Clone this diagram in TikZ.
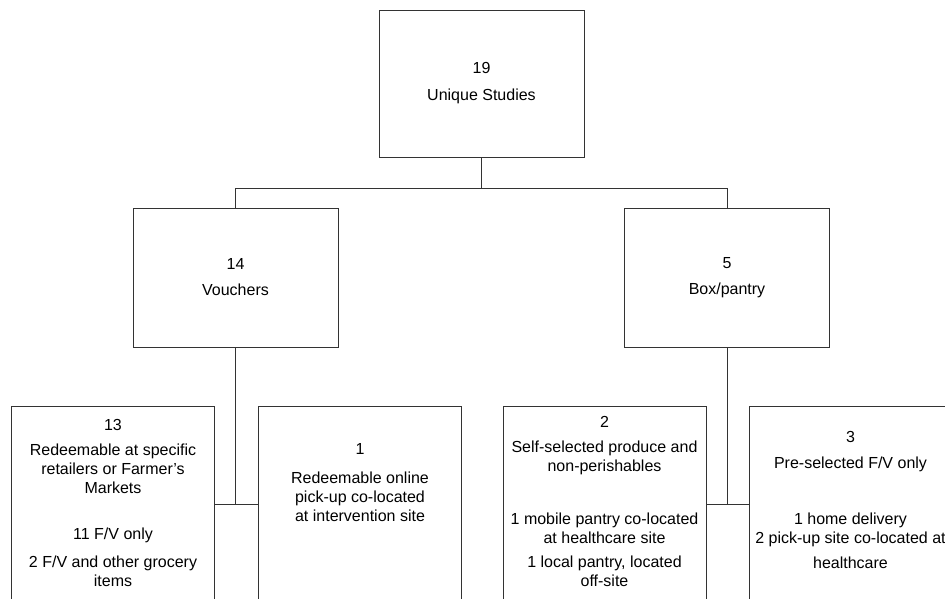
\documentclass[tikz,border=0pt]{standalone}
\usepackage{fontspec}
\setmainfont{Liberation Sans}
\usetikzlibrary{positioning}

% top-aligned text block inside a leaf box
\newcommand{\leaftext}[2]{\parbox[c][196pt][t]{203pt}{\centering\vspace*{#1}#2}}

\begin{document}
\begin{tikzpicture}[x=1pt,y=1pt]
    \tikzset{
      boxline/.style={rectangle,draw=black!80,line width=1pt,inner sep=0pt,font=\fontsize{16}{19}\selectfont},
      studybox/.style={boxline,minimum width=205pt,align=center},
      leafbox/.style={boxline,minimum width=203pt,minimum height=196pt},
      link/.style={draw=black!80,line width=1pt}
    }
    \useasboundingbox (0,0) rectangle (945,-598);
    \clip (0,0) rectangle (945,-598);

    \node[studybox,minimum height=147pt](total) at (481.5,-83.5){19\\[8pt]Unique Studies};
    \node[studybox,minimum height=139pt](vouchers) at (235.5,-277.5){14\\[7pt]Vouchers};
    \node[studybox,minimum height=139pt](pantry) at (727,-277.5){5\\[7pt]Box/pantry};

    \node[leafbox](retail) at (113,-504){\leaftext{13pt}{13\\[6pt]Redeemable at specific\\retailers or Farmer’s\\Markets\\[27pt]11 F/V only\\[9pt]2 F/V and other grocery\\items}};
    \node[leafbox,right=43pt of retail](online){\leaftext{37pt}{1\\[10pt]Redeemable online\\pick-up co-located\\at intervention site}};
    \node[leafbox](selfsel) at (604.5,-504){\leaftext{10pt}{2\\[6pt]Self-selected produce and\\non-perishables\\[34pt]1 mobile pantry co-located\\at healthcare site\\[5pt]1 local pantry, located\\off-site}};
    \node[leafbox,right=42pt of selfsel](preselected){\leaftext{25pt}{3\\[7pt]Pre-selected F/V only\\[37pt]1 home delivery\\2 pick-up site co-located at\\[6pt]healthcare}};

    \coordinate[below=31pt of total.south](fork);
    \draw[link,line width=1.6pt](total.south) -- (fork);
    \draw[link](fork) -| (vouchers.north);
    \draw[link](fork) -| (pantry.north);
    \draw[link](vouchers.south) -- (vouchers.south |- retail.east);
    \draw[link](retail.east) -- (online.west);
    \draw[link](pantry.south) -- (pantry.south |- selfsel.east);
    \draw[link](selfsel.east) -- (preselected.west);

  \end{tikzpicture}
\end{document}
